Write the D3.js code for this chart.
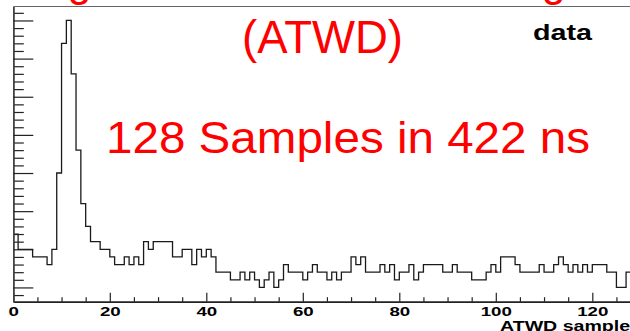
<!DOCTYPE html>
<html><head><meta charset="utf-8">
<script src="https://cdn.jsdelivr.net/npm/d3@7/dist/d3.min.js"></script>
<style>html,body{margin:0;padding:0;background:#fff;overflow:hidden}</style>
</head><body>
<svg id="c" width="630" height="331"></svg>
<script>
// ATWD waveform: counts per sample bin (128 samples)
const counts = [
  67,65,65,65,64,64,64,63,65,75,
  92,95,88,78,71,68,66,66,65,65,
  64,63,63,64,63,64,63,66,65,66,
  66,66,66,64,64,65,65,63,65,64,
  65,64,62,62,62,61,61,62,61,62,
  61,60,61,62,60,61,63,62,62,62,
  61,62,63,62,62,61,62,61,62,62,
  64,63,64,62,62,62,63,62,63,61,
  62,62,63,61,62,63,63,63,63,62,
  62,63,62,62,62,61,61,61,62,63,
  62,64,64,64,63,62,62,62,62,63,
  62,62,63,64,63,62,63,62,63,62,
  63,63,63,62,62,60,60,62
];
const xMajorTicks = [0,20,40,60,80,100,120];
const xMinorTicks = [5,10,15,25,30,35,45,50,55,65,70,75,85,90,95,105,110,115,125];
const yMajorTicks = [60,65,70,75,80,85,90,95];
const yMinorTicks = [59,61,62,63,64,66,67,68,69,71,72,73,74,76,77,78,79,81,82,83,84,86,87,88,89,91,92,93,94,96];
const titleLines = ["Analog Transient Waveform Digitizer", "(ATWD)", "128 Samples in 422 ns"];
const legendLabel = "data";
const xTitle = "ATWD samples";

const svg = d3.select("#c");
const L = 13.3, R = 630.9, T = 6.5, B = 301.7;
const x = d3.scaleLinear().domain([0, 128]).range([L, R]);
const y = d3.scaleLinear().domain([58.13, 96.83]).range([B, T]);

// frame top
svg.append("line").attr("x1", L).attr("x2", R).attr("y1", T).attr("y2", T)
  .attr("stroke", "#666").attr("stroke-width", 1.2);

// histogram outline
const pts = counts.map((v, i) => [i, v]);
pts.push([counts.length, counts[counts.length - 1]]);
const line = d3.line().x(d => x(d[0])).y(d => y(d[1])).curve(d3.curveStepAfter);
svg.append("path").attr("d", line(pts)).attr("fill", "none")
  .attr("stroke", "#1a1a1a").attr("stroke-width", 1.3);

// x axis: major + minor ticks pointing up
const gxMin = svg.append("g").attr("transform", `translate(0,${B})`)
  .call(d3.axisBottom(x).tickValues(xMinorTicks).tickSize(-4.5).tickSizeOuter(0).tickFormat(""));
const gxMaj = svg.append("g").attr("transform", `translate(0,${B})`)
  .call(d3.axisBottom(x).tickValues(xMajorTicks).tickSize(-9).tickSizeOuter(0).tickPadding(14));
[gxMin, gxMaj].forEach(g => {
  g.select(".domain").attr("stroke", "#222").attr("stroke-width", 1.6);
  g.selectAll(".tick line").attr("stroke", "#222").attr("stroke-width", 1.2);
});
gxMaj.selectAll(".tick text")
  .attr("y", 14.5).attr("dy", 0)
  .attr("font-family", "'Liberation Sans', Arial, sans-serif")
  .attr("font-weight", "bold").attr("font-size", 13).attr("fill", "#000")
  .attr("textLength", d => 10.4 * String(d).length)
  .attr("lengthAdjust", "spacingAndGlyphs");

// y axis: ticks pointing right
const gyMin = svg.append("g").attr("transform", `translate(${L},0)`)
  .call(d3.axisLeft(y).tickValues(yMinorTicks).tickSize(-10.5).tickSizeOuter(0).tickFormat(""));
const gyMaj = svg.append("g").attr("transform", `translate(${L},0)`)
  .call(d3.axisLeft(y).tickValues(yMajorTicks).tickSize(-20).tickSizeOuter(0).tickFormat(""));
[gyMin, gyMaj].forEach(g => {
  g.select(".domain").attr("stroke", "#444").attr("stroke-width", 1.5);
  g.selectAll(".tick line").attr("stroke", "#222").attr("stroke-width", 1.2);
});

// x axis title
svg.append("text").attr("x", 500).attr("y", 330.5)
  .attr("font-family", "'Liberation Sans', Arial, sans-serif")
  .attr("font-weight", "bold").attr("font-size", 14).attr("fill", "#000")
  .attr("textLength", 141).attr("lengthAdjust", "spacingAndGlyphs")
  .text(xTitle);

// legend label
svg.append("text").attr("x", 533).attr("y", 40)
  .attr("font-family", "'Liberation Sans', Arial, sans-serif")
  .attr("font-weight", "bold").attr("font-size", 22).attr("fill", "#000")
  .attr("textLength", 59).attr("lengthAdjust", "spacingAndGlyphs")
  .text(legendLabel);

// red overlay title
const red = "#ff0000", ff = "'Liberation Sans', Arial, sans-serif";
svg.append("text").attr("x", -43).attr("y", -4.5)
  .attr("font-family", ff).attr("font-size", 45).attr("fill", red)
  .attr("textLength", 700).attr("lengthAdjust", "spacingAndGlyphs")
  .text(titleLines[0]);
svg.append("text").attr("x", 322.5).attr("y", 53).attr("text-anchor", "middle")
  .attr("font-family", ff).attr("font-size", 47).attr("fill", red)
  .attr("textLength", 161).attr("lengthAdjust", "spacingAndGlyphs")
  .text(titleLines[1]);
svg.append("text").attr("x", 106).attr("y", 153)
  .attr("font-family", ff).attr("font-size", 44).attr("fill", red)
  .attr("textLength", 484).attr("lengthAdjust", "spacingAndGlyphs")
  .text(titleLines[2]);
</script>
</body></html>
